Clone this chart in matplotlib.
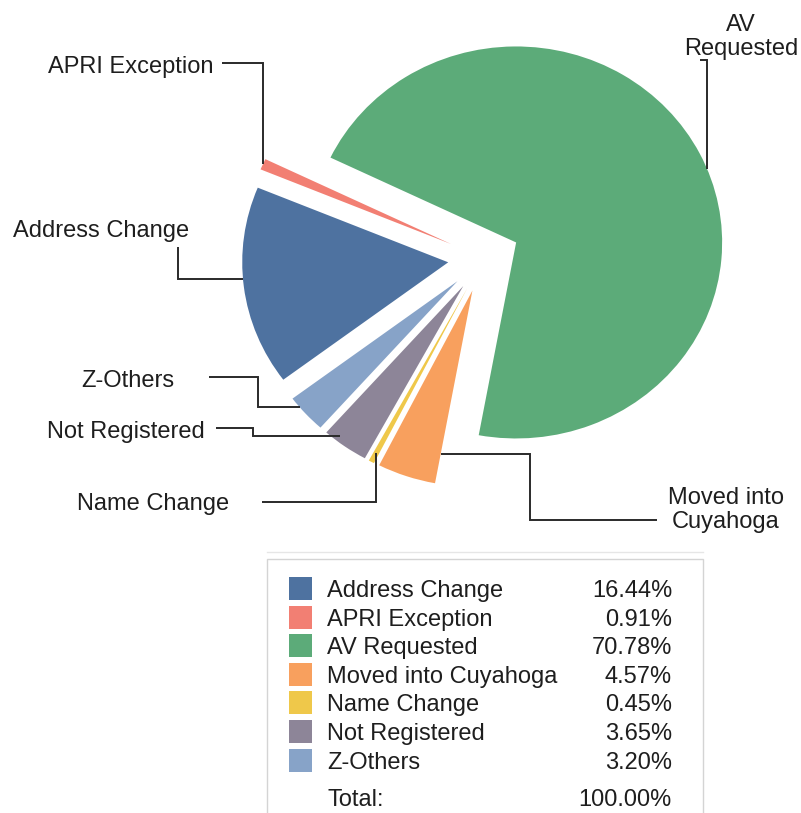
import matplotlib
matplotlib.use('Agg')
import matplotlib.pyplot as plt
from matplotlib.patches import Rectangle
import numpy as np

labels = ['Address Change', 'APRI Exception', 'AV Requested', 'Moved into Cuyahoga',
          'Name Change', 'Not Registered', 'Z-Others']
shares = [16.44, 0.91, 70.78, 4.57, 0.45, 3.65, 3.20]
colors = ['#4e72a0', '#f27f73', '#5cab79', '#f8a05e', '#efc84a', '#8d8598', '#87a3c8']

W, H = 801, 813
K = 206 / 196          # the scanned pie is a bit squashed vertically
plt.rcParams['font.family'] = ['Liberation Sans', 'DejaVu Sans']
TXT = '#1e1e1e'
FS = 17

fig = plt.figure(figsize=(W / 100, H / 100), dpi=100)
ax = fig.add_axes([0, 0, 1, 1])


def Y(v):
    # pixel row (from top) -> data y
    return (H - v) * K


cx, cy, R = 484, 258, 206
wedges, _ = ax.pie(shares, colors=colors, radius=R, center=(cx, Y(cy)),
                   startangle=216.8, counterclock=False,
                   explode=[0.175 * R] * len(shares),
                   wedgeprops=dict(linewidth=0))
ax.set_xlim(0, W)
ax.set_ylim(0, H * K)
ax.set_aspect('auto')
ax.axis('off')


def arc_pt(w, ang, f=1.0):
    a = np.radians(ang)
    x = w.center[0] + f * w.r * np.cos(a)
    y = w.center[1] + f * w.r * np.sin(a)
    return x, H - y / K   # back to pixel row


def mid(w):
    return (w.theta1 + w.theta2) / 2


def leader(pts):
    ax.plot([p[0] for p in pts], [Y(p[1]) for p in pts], color='#2a2a2a', lw=1.4,
            solid_joinstyle='miter', solid_capstyle='butt')


# APRI Exception
x0, y0 = arc_pt(wedges[1], mid(wedges[1]))
leader([(x0, y0), (x0, 63), (222, 63)])
ax.text(213, Y(73), labels[1], ha='right', va='baseline', fontsize=FS, color=TXT)

# AV Requested
x0, y0 = arc_pt(wedges[2], 22)
leader([(x0, y0), (x0, 60), (x0 - 7, 60)])
ax.text(741, Y(55), 'AV\nRequested', ha='center', va='baseline', ma='center',
        fontsize=FS, color=TXT, linespacing=1.1)

# Address Change
x0, y0 = arc_pt(wedges[0], 185)
leader([(x0, y0), (178, y0), (178, 247)])
ax.text(189, Y(237), labels[0], ha='right', va='baseline', fontsize=FS, color=TXT)

# Z-Others
x0, y0 = arc_pt(wedges[6], 220)
leader([(x0, y0), (258, y0), (258, 377), (209, 377)])
ax.text(174, Y(387), labels[6], ha='right', va='baseline', fontsize=FS, color=TXT)

# Not Registered
x0, y0 = arc_pt(wedges[5], 232, 0.97)
leader([(x0, y0), (253, y0), (253, 428), (216, 428)])
ax.text(205, Y(438), labels[5], ha='right', va='baseline', fontsize=FS, color=TXT)

# Name Change
x0, y0 = arc_pt(wedges[4], mid(wedges[4]), 0.95)
leader([(x0, y0), (x0, 502), (262, 502)])
ax.text(229, Y(510), labels[4], ha='right', va='baseline', fontsize=FS, color=TXT)

# Moved into Cuyahoga
x0, y0 = arc_pt(wedges[3], wedges[3].theta2, 0.85)
leader([(x0, y0), (530, y0), (530, 520), (657, 520)])
ax.text(726, Y(528), 'Moved into\nCuyahoga', ha='center', va='baseline', ma='center',
        fontsize=FS, color=TXT, linespacing=1.1)

# legend box
ax.plot([267, 703], [Y(552), Y(552)], color='#e6e6e6', lw=1)
ax.add_patch(Rectangle((267, Y(830)), 703 - 267, Y(559) - Y(830),
                       facecolor='white', edgecolor='#d4d4d4', lw=1))
row0, step = 588.5, 28.6
for i, (lab, v, c) in enumerate(zip(labels, shares, colors)):
    yc = row0 + i * step
    ax.add_patch(Rectangle((289, Y(yc + 11.5)), 23, Y(yc - 11.5) - Y(yc + 11.5),
                           facecolor=c, edgecolor='none'))
    ax.text(327, Y(yc + 8.5), lab, ha='left', va='baseline', fontsize=FS, color=TXT)
    ax.text(672, Y(yc + 8.5), f'{v:.2f}%', ha='right', va='baseline', fontsize=FS, color=TXT)
ax.text(327, Y(805.5), 'Total:', ha='left', va='baseline', fontsize=FS, color=TXT)
ax.text(672, Y(805.5), f'{sum(shares):.2f}%', ha='right', va='baseline', fontsize=FS, color=TXT)

fig.savefig('out.png', dpi=100, facecolor='white')
